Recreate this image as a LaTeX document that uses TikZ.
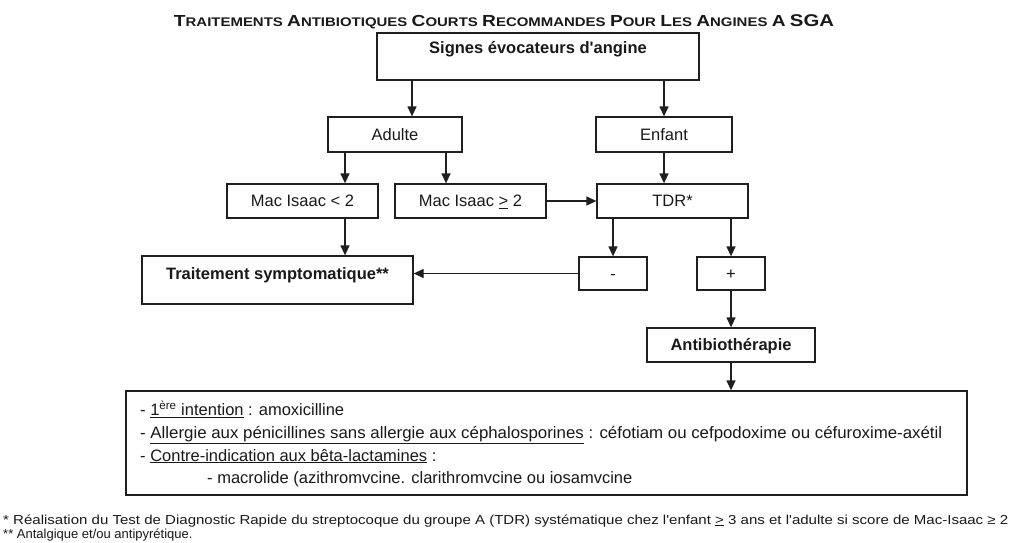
\documentclass[tikz,border=0pt]{standalone}
\usepackage{fontspec}
\usepackage{graphicx}
\setmainfont{Liberation Sans}
\usetikzlibrary{arrows.meta}

% small-caps look for the heading: large initial, smaller rest
\newcommand\capword[2]{{\fontsize{16}{16}\selectfont #1}{\fontsize{12.5}{12.5}\selectfont #2}}
% stretch a line of text to a given width, keeping its height
\newcommand\fitw[2]{\resizebox{#1}{\height}{#2}}

\begin{document}
\begin{tikzpicture}[x=1pt,y=-1pt,
  ink/.style={draw=black!88, line width=1.3pt},
  box/.style={ink, inner sep=0pt, text height=11.9pt, text depth=0pt,
    font=\fontsize{16.5}{18}\selectfont, text=black!90},
  boldbox/.style={box, font=\fontsize{16.5}{18}\selectfont\bfseries},
  arr/.style={ink, -{Triangle[length=10pt,width=9pt]}},
  txtline/.style={inner sep=0pt, anchor=base west,
    font=\fontsize{16.5}{18}\selectfont, text=black!90},
  noteline/.style={txtline, font=\fontsize{13}{14}\selectfont}
]
\fill[white] (0,0) rectangle (1011,542);
\useasboundingbox (0,0) rectangle (1011,542);

% heading
\node[inner sep=0pt, anchor=base, font=\fontsize{13}{14}\selectfont\bfseries, text=black!90]
  (title) at (504,26) {\fitw{660pt}{\capword{T}{RAITEMENTS} \capword{A}{NTIBIOTIQUES}
  \capword{C}{OURTS} \capword{R}{ECOMMANDES} \capword{P}{OUR} \capword{L}{ES}
  \capword{A}{NGINES} \capword{A}{} {\fontsize{17}{17}\selectfont SGA}}};

% boxes
\node[boldbox, text height=20pt, text depth=27pt, minimum width=322pt]
  (top) at (538,56.5) {Signes évocateurs d\textquotesingle angine};
\node[box, minimum width=134pt, minimum height=35pt] (adulte) at (395,134.5) {Adulte};
\node[box, minimum width=136pt, minimum height=35pt] (enfant) at (664,134.5) {Enfant};
\node[box, minimum width=151pt, minimum height=34pt] (mac1) at (302.5,201) {Mac Isaac < 2};
\node[box, minimum width=151pt, minimum height=34pt] (mac2) at (470.5,201) {Mac Isaac \underline{>} 2};
\node[box, minimum width=151pt, minimum height=34pt] (tdr) at (672.5,201) {TDR*};
\node[boldbox, text height=23pt, text depth=25pt, minimum width=271pt]
  (sympto) at (277.5,280) {Traitement symptomatique**};
\node[box, minimum width=68pt, minimum height=33pt] (neg) at (613,273.5) {-};
\node[box, minimum width=68pt, minimum height=33pt] (pos) at (731,273.5) {+};
\node[boldbox, minimum width=168pt, minimum height=34pt] (antibio) at (731,345) {Antibiothérapie};
\node[ink, inner sep=0pt, minimum width=841pt, minimum height=104pt] (reco) at (546.5,443) {};

% content of the treatment box
\node[txtline] (r1) at (140,415.5) {- \underline{1\textsuperscript{ère} intention} : amoxicilline};
\node[txtline] (r2) at (140,438.5) {\fitw{802pt}{- \underline{Allergie aux pénicillines sans allergie aux céphalosporines} : céfotiam ou cefpodoxime ou céfuroxime-axétil}};
\node[txtline] (r3) at (140,461) {- \underline{Contre-indication aux bêta-lactamines} :};
\node[txtline] (r4) at (207,483.5) {- macrolide (azithromvcine. clarithromvcine ou iosamvcine};

% footnotes
\node[noteline] (n1) at (3,524) {\fitw{1005pt}{* Réalisation du Test de Diagnostic Rapide du streptocoque du groupe A (TDR) systématique chez l\textquotesingle enfant \underline{>} 3 ans et l\textquotesingle adulte si score de Mac-Isaac ≥ 2}};
\node[noteline] (n2) at (3,538) {** Antalgique et/ou antipyrétique.};

% connector columns
\coordinate (xa) at (412,0);
\coordinate (xb) at (345,0);
\coordinate (xc) at (446,0);

% connectors
\draw[arr] (top.south -| xa) -- (adulte.north -| xa);
\draw[arr] (top.south -| enfant) -- (enfant.north);
\draw[arr] (adulte.south -| xb) -- (mac1.north -| xb);
\draw[arr] (adulte.south -| xc) -- (mac2.north -| xc);
\draw[arr] (enfant.south) -- (tdr.north -| enfant);
\draw[arr] (mac2.east) -- (tdr.west |- mac2.east);
\draw[arr] (mac1.south -| xb) -- (sympto.north -| xb);
\draw[arr] (tdr.south -| neg) -- (neg.north);
\draw[arr] (tdr.south -| pos) -- (pos.north);
\draw[arr] (neg.west) -- (sympto.east |- neg.west);
\draw[arr] (pos.south) -- (antibio.north);
\draw[arr] (antibio.south) -- (reco.north -| antibio);
\end{tikzpicture}
\end{document}
